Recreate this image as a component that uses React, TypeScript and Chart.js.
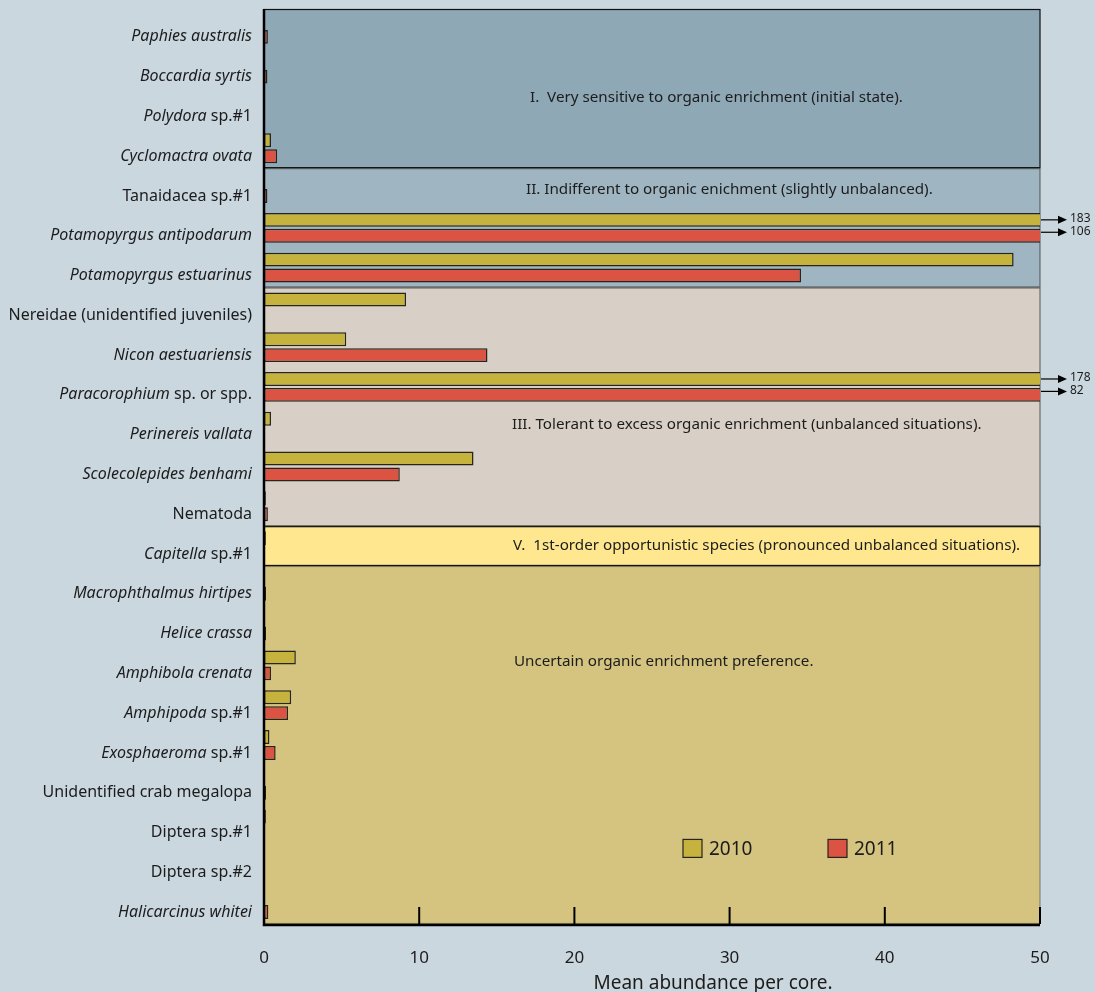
import React, { useEffect, useRef } from 'react';
import { Chart, registerables } from 'chart.js';

Chart.register(...registerables);

const categories = [
  'Paphies australis',
  'Boccardia syrtis',
  'Polydora sp.#1',
  'Cyclomactra ovata',
  'Tanaidacea sp.#1',
  'Potamopyrgus antipodarum',
  'Potamopyrgus estuarinus',
  'Nereidae (unidentified juveniles)',
  'Nicon aestuariensis',
  'Paracorophium sp. or spp.',
  'Perinereis vallata',
  'Scolecolepides benhami',
  'Nematoda',
  'Capitella sp.#1',
  'Macrophthalmus hirtipes',
  'Helice crassa',
  'Amphibola crenata',
  'Amphipoda sp.#1',
  'Exosphaeroma sp.#1',
  'Unidentified crab megalopa',
  'Diptera sp.#1',
  'Diptera sp.#2',
  'Halicarcinus whitei',
];

// italic part of each label (full = entirely italic, '' = roman)
const italicPart = [
  'Paphies australis',
  'Boccardia syrtis',
  'Polydora',
  'Cyclomactra ovata',
  '',
  'Potamopyrgus antipodarum',
  'Potamopyrgus estuarinus',
  '',
  'Nicon aestuariensis',
  'Paracorophium',
  'Perinereis vallata',
  'Scolecolepides benhami',
  '',
  'Capitella',
  'Macrophthalmus hirtipes',
  'Helice crassa',
  'Amphibola crenata',
  'Amphipoda',
  'Exosphaeroma',
  '',
  '',
  '',
  'Halicarcinus whitei',
];

const values2010 = [0, 0, 0.06, 0.45, 0, 183, 48.3, 9.15, 5.3, 178, 0.45, 13.5, 0.12, 0.12, 0, 0, 2.05, 1.75, 0.35, 0, 0.12, 0.05, 0];
const values2011 = [0.25, 0.22, 0, 0.85, 0.22, 106, 34.6, 0, 14.4, 82, 0, 8.75, 0.25, 0, 0.13, 0.13, 0.45, 1.55, 0.75, 0.13, 0, 0, 0.28];

const seriesNames = ['2010', '2011'];
const xTicks = [0, 10, 20, 30, 40, 50];
const xTitle = 'Mean abundance per core.';

const bandLabels = [
  'I.  Very sensitive to organic enrichment (initial state).',
  'II. Indifferent to organic enichment (slightly unbalanced).',
  'III. Tolerant to excess organic enrichment (unbalanced situations).',
  'V.  1st-order opportunistic species (pronounced unbalanced situations).',
  'Uncertain organic enrichment preference.',
];
const bandFirst = [0, 4, 7, 13, 14];
const bandLast = [3, 6, 12, 13, 22];

// styles
const PAGE_BG = '#cad7df';
const bandFill = ['#8ea8b6', '#9fb5c2', '#d8d0c6', '#fee78e', '#d4c47f'];
const bandStroke = ['#111', 'rgba(60,60,60,0.7)', 'rgba(60,60,60,0.7)', '#111', 'rgba(60,60,60,0.5)'];
const bandTextX = [266, 262, 248, 249, 250];
const bandTextRow = [2.24, 4.55, 10.45, 13.5, 16.4];
const COL2010 = '#c5b33e';
const COL2011 = '#db5443';
const BORDER = '#26241c';
const TEXT = '#1c1c1c';
const FONT = '"Noto Sans", "Open Sans", sans-serif';

const customPlugin = {
  id: 'customDraw',
  beforeDatasetsDraw(chart: any) {
    const { ctx, chartArea: ca } = chart;
    const catH = (ca.bottom - ca.top) / categories.length;
    ctx.save();
    bandFirst.forEach((f, i) => {
      const top = ca.top + f * catH;
      const bot = ca.top + (bandLast[i] + 1) * catH;
      ctx.fillStyle = bandFill[i];
      ctx.fillRect(ca.left, top, ca.right - ca.left, bot - top);
    });
    bandFirst.forEach((f, i) => {
      const top = ca.top + f * catH;
      const bot = ca.top + (bandLast[i] + 1) * catH;
      ctx.strokeStyle = bandStroke[i];
      ctx.lineWidth = 1.2;
      ctx.strokeRect(ca.left, top + 0.5, ca.right - ca.left, bot - top - 1);
    });
    ctx.fillStyle = TEXT;
    ctx.font = `15.2px ${FONT}`;
    ctx.textAlign = 'left';
    ctx.textBaseline = 'middle';
    bandLabels.forEach((t, i) => {
      ctx.fillText(t, ca.left + bandTextX[i], ca.top + bandTextRow[i] * catH);
    });
    ctx.restore();
  },
  afterDatasetsDraw(chart: any) {
    const { ctx, chartArea: ca, scales } = chart;
    const x = scales.x;
    const y = scales.y;
    ctx.save();
    // axis lines
    ctx.strokeStyle = '#000';
    ctx.lineWidth = 2.5;
    ctx.beginPath();
    ctx.moveTo(ca.left, ca.top);
    ctx.lineTo(ca.left, ca.bottom + 1);
    ctx.lineTo(ca.right, ca.bottom + 1);
    ctx.stroke();
    // inner tick marks
    ctx.lineWidth = 2;
    xTicks.forEach((v) => {
      if (v === 0) return;
      const px = x.getPixelForValue(v);
      ctx.beginPath();
      ctx.moveTo(px, ca.bottom);
      ctx.lineTo(px, ca.bottom - 17);
      ctx.stroke();
    });
    // arrows for values beyond the axis
    const max = x.max;
    [values2010, values2011].forEach((vals, d) => {
      const meta = chart.getDatasetMeta(d);
      vals.forEach((v, i) => {
        if (v <= max) return;
        const by = meta.data[i].y + (d === 1 ? -3.5 : 0);
        const x0 = ca.right + 1;
        ctx.strokeStyle = '#000';
        ctx.fillStyle = '#000';
        ctx.lineWidth = 1.2;
        ctx.beginPath();
        ctx.moveTo(x0, by);
        ctx.lineTo(x0 + 20, by);
        ctx.stroke();
        ctx.beginPath();
        ctx.moveTo(x0 + 26, by);
        ctx.lineTo(x0 + 17, by - 4);
        ctx.lineTo(x0 + 17, by + 4);
        ctx.closePath();
        ctx.fill();
        ctx.fillStyle = TEXT;
        ctx.font = `12px ${FONT}`;
        ctx.textAlign = 'left';
        ctx.textBaseline = 'middle';
        ctx.fillText(String(v), x0 + 29, by - 1);
      });
    });
    // y labels with mixed italic
    ctx.fillStyle = TEXT;
    ctx.textBaseline = 'middle';
    ctx.textAlign = 'left';
    const rightX = ca.left - 12;
    const fs = 16;
    categories.forEach((label, i) => {
      const cy = y.getPixelForValue(i) + 8;
      const ital = italicPart[i];
      const rest = label.slice(ital.length);
      ctx.font = `italic ${fs}px ${FONT}`;
      const w1 = ital ? ctx.measureText(ital).width : 0;
      ctx.font = `${fs}px ${FONT}`;
      const w2 = rest ? ctx.measureText(rest).width : 0;
      let sx = rightX - w1 - w2;
      if (ital) {
        ctx.font = `italic ${fs}px ${FONT}`;
        ctx.fillText(ital, sx, cy);
        sx += w1;
      }
      if (rest) {
        ctx.font = `${fs}px ${FONT}`;
        ctx.fillText(rest, sx, cy);
      }
    });
    // legend
    const catH = (ca.bottom - ca.top) / categories.length;
    const ly = ca.top + 21.1 * catH;
    const legX = [ca.left + 419, ca.left + 564];
    const legCol = [COL2010, COL2011];
    seriesNames.forEach((n, i) => {
      ctx.fillStyle = legCol[i];
      ctx.fillRect(legX[i], ly - 9, 19, 18);
      ctx.strokeStyle = BORDER;
      ctx.lineWidth = 1.2;
      ctx.strokeRect(legX[i], ly - 9, 19, 18);
      ctx.fillStyle = TEXT;
      ctx.font = `19px ${FONT}`;
      ctx.textAlign = 'left';
      ctx.textBaseline = 'middle';
      ctx.fillText(n, legX[i] + 26, ly + 1);
    });
    // x title
    ctx.font = `19px ${FONT}`;
    ctx.textAlign = 'center';
    ctx.textBaseline = 'middle';
    ctx.fillStyle = TEXT;
    ctx.fillText(xTitle, ca.left + 449, ca.bottom + 60);
    ctx.restore();
  },
};

export default function App() {
  const ref = useRef<HTMLCanvasElement>(null);
  useEffect(() => {
    document.body.style.margin = '0';
    document.body.style.background = PAGE_BG;
    const canvas = ref.current!;
    const chart = new Chart(canvas, {
      type: 'bar',
      data: {
        labels: categories,
        datasets: [
          {
            label: seriesNames[0],
            data: values2010,
            backgroundColor: COL2010,
            borderColor: BORDER,
            borderWidth: 1.5,
            borderSkipped: false,
            categoryPercentage: 0.8,
            barPercentage: 0.875,
          },
          {
            label: seriesNames[1],
            data: values2011,
            backgroundColor: COL2011,
            borderColor: BORDER,
            borderWidth: 1.5,
            borderSkipped: false,
            categoryPercentage: 0.8,
            barPercentage: 0.875,
          },
        ],
      },
      options: {
        indexAxis: 'y',
        animation: false,
        responsive: false,
        maintainAspectRatio: false,
        layout: { padding: { top: 9, right: 55, left: 0, bottom: 0 } },
        plugins: {
          legend: { display: false },
          tooltip: { enabled: false },
        },
        scales: {
          x: {
            type: 'linear',
            min: 0,
            max: 50,
            afterBuildTicks: (s: any) => {
              s.ticks = xTicks.map((v) => ({ value: v }));
            },
            afterFit: (s: any) => {
              s.height = 68;
            },
            grid: { display: false, drawTicks: false },
            border: { display: false },
            ticks: {
              padding: 24,
              color: TEXT,
              font: { family: FONT, size: 17 },
              maxRotation: 0,
            },
          },
          y: {
            type: 'category',
            afterFit: (s: any) => {
              s.width = 264;
            },
            grid: { display: false, drawTicks: false },
            border: { display: false },
            ticks: { display: false },
          },
        },
      },
      plugins: [customPlugin],
    });
    return () => chart.destroy();
  }, []);
  return (
    <div style={{ width: 1095, height: 992, background: PAGE_BG }}>
      <canvas ref={ref} width={1095} height={992} style={{ display: 'block' }} />
    </div>
  );
}
